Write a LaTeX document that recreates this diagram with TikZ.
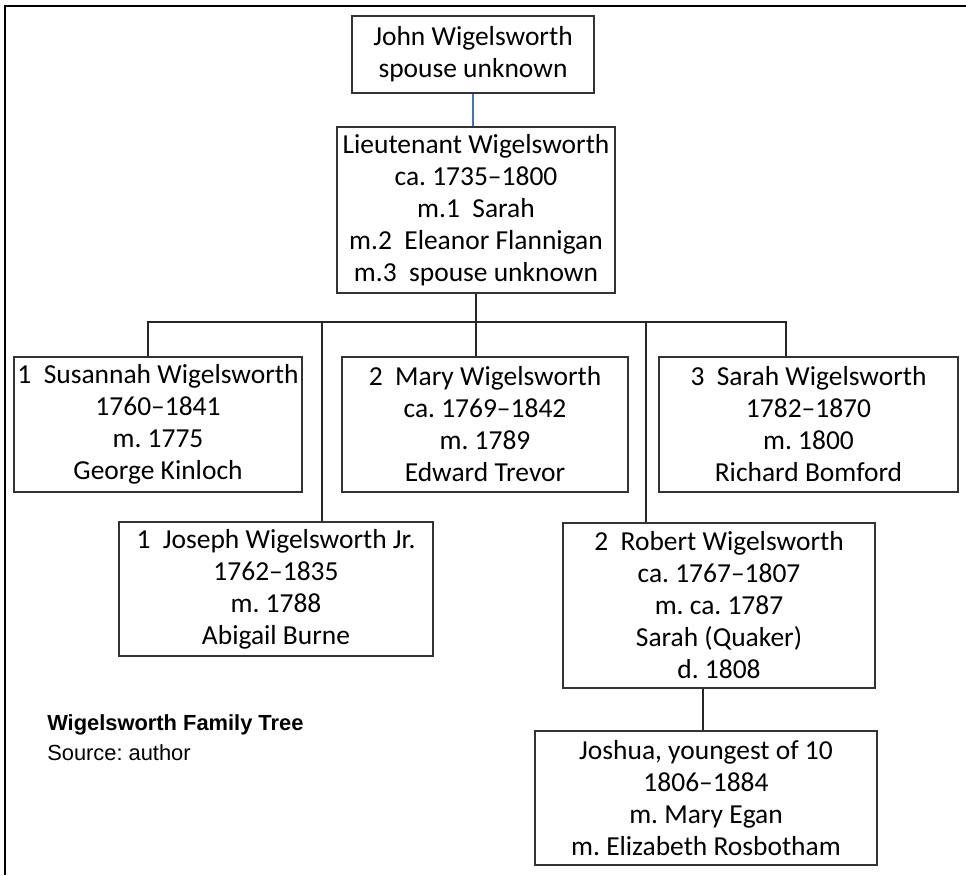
\documentclass[tikz,border=0pt]{standalone}
\usepackage{fontspec}
\setmainfont{Carlito}
\newfontfamily\captionfont{Liberation Sans}
\usetikzlibrary{positioning, calc}
\definecolor{tree_blue}{HTML}{4472C4}
\frenchspacing
\tikzset{
  person/.style={draw=black!80,line width=1.5pt,fill=white,align=center,inner sep=0pt,
    font=\fontsize{20.6}{24}\selectfont},
  link/.style={draw=black!85,line width=1.5pt},
  toplink/.style={draw=tree_blue,line width=1.1pt},
  frame/.style={draw=black,line width=1.5pt},
  caption/.style={anchor=base west,inner sep=0pt,font=\captionfont\fontsize{16.4}{19}\selectfont},
}

\begin{document}
\begin{tikzpicture}[x=0.75pt,y=-0.75pt]
	    \useasboundingbox (0,0) rectangle (966,875);
	    \draw[frame] (966,6) -- (5,6) -- (5,875);
	    % generations
	    \node[person,minimum width=181.5pt,minimum height=57.75pt] (john) at (473,54.5)
	      {John Wigelsworth\\spouse unknown};
	    \node[person,minimum width=208.5pt,minimum height=124.5pt] (lieut) at (476,210)
	      {Lieutenant Wigelsworth\\ca. 1735–1800\\m.1~ Sarah\\m.2~ Eleanor Flannigan\\m.3~ spouse unknown};
	    \node[person,minimum width=216pt,minimum height=101.25pt] (susannah) at (158,424.5)
	      {1~ Susannah Wigelsworth\\1760–1841\\m. 1775\\George Kinloch};
	    \node[person,minimum width=214.5pt,minimum height=101.25pt] (mary) at (485,424.5)
	      {2~ Mary Wigelsworth\\ca. 1769–1842\\m. 1789\\Edward Trevor};
	    \node[person,minimum width=224.25pt,minimum height=101.25pt] (sarah) at (808.5,424.5)
	      {3~ Sarah Wigelsworth\\1782–1870\\m. 1800\\Richard Bomford};
	    \node[person,minimum width=235.5pt,minimum height=100.5pt] (joseph) at (276,589)
	      {1~ Joseph Wigelsworth Jr.\\1762–1835\\m. 1788\\Abigail Burne};
	    \node[person,minimum width=234pt,minimum height=123.75pt] (robert) at (719,605.5)
	      {2~ Robert Wigelsworth\\ca. 1767–1807\\m. ca. 1787\\Sarah (Quaker)\\d. 1808};
	    \node[person,minimum width=256.5pt,minimum height=100.5pt] (joshua) at (706,798)
	      {Joshua, youngest of 10\\1806–1884\\m. Mary Egan\\m. Elizabeth Rosbotham};
	    % caption
	    \node[caption] (title) at (47,730) {\bfseries Wigelsworth Family Tree};
	    \node[caption] (source) at (47,760) {Source: author};
	    % connectors
	    \coordinate (bus) at (0,322);
	    \draw[toplink] (john.south) -- (john.south |- lieut.north);
	    \draw[link] (lieut.south) -- (lieut.south |- mary.north);
	    \draw[link] ($(susannah.north)+(-10,0)$) |- ($(sarah.north |- bus)+(-23,0)$)
	      -- ($(sarah.north)+(-23,0)$);
	    \draw[link] ($(joseph.north |- bus)+(46,0)$) -- ($(joseph.north)+(46,0)$);
	    \draw[link] ($(robert.north |- bus)+(-73,0)$) -- ($(robert.north)+(-73,0)$);
	    \draw[link] (joshua.north -| robert.south) ++(-16,0) coordinate (drop)
	      (drop |- robert.south) -- (drop);
\end{tikzpicture}
\end{document}
